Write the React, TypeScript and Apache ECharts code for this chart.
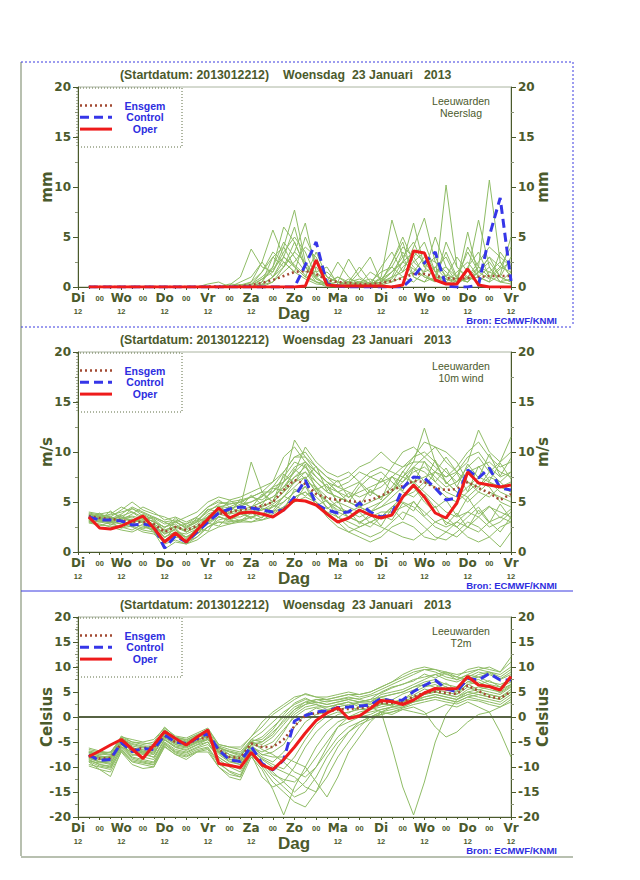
import React, { useEffect, useRef } from 'react';
import * as echarts from 'echarts';

// ---------- labels ----------
const DAY_LABELS = ['Di', 'Wo', 'Do', 'Vr', 'Za', 'Zo', 'Ma', 'Di', 'Wo', 'Do', 'Vr'];
const HOUR_LABEL = '12';
const MID_LABEL = '00';
const STEP_HOURS = 6;
const TITLE_PARTS = ['(Startdatum: 2013012212)', 'Woensdag', '23 Januari', '2013'];
const STATION = 'Leeuwarden';
const SOURCE = 'Bron: ECMWF/KNMI';
const LEGEND_NAMES = ['Ensgem', 'Control', 'Oper'];
const X_NAME = 'Dag';

// ---------- Neerslag (mm), steps +6h .. +240h ----------
const PRECIP_OPER = [0,0,0,0,0,0,0,0,0,0, 0,0,0,0,0,0,0,0,0,0, 0.1,2.7,0.2,0.1,0.1,0.1,0.1,0.1,0,0.2, 3.6,3.4,0.7,0.3,0.3,1.8,0.2,0,0,0];
const PRECIP_CONTROL = [0,0,0,0,0,0,0,0,0,0, 0,0,0,0,0,0,0,0,0,0, 2.2,4.5,0.3,0.1,0,0,0,0,0,0, 1.0,2.4,3.5,0.1,0,0,0.2,5.1,8.9,0.6];
const PRECIP_ENSGEM = [0,0,0,0,0,0,0,0,0,0, 0,0.05,0.05,0.05,0.1,0.2,0.4,0.7,1.1,1.5, 1.6,1.3,0.7,0.5,0.4,0.3,0.3,0.4,0.6,0.9, 1.3,1.3,1.1,0.9,0.8,0.9,1.0,1.1,1.1,1.1];
const PRECIP_MEMBERS = [
  [0,0,0,0,0,0,0,0,0,0, 0,0,0,0.2,1.0,3.8,2.0,1.5,4.0,7.7, 2.5,0.8,0.3,0.5,2.8,1.0,0.3,0.8,2.0,4.0, 3.0,1.2,0.6,10.2,2.0,0.8,1.5,3.0,1.0,0.5],
  [0,0,0,0,0,0,0,0,0,0, 0,0.3,0.5,0,0.2,0.5,1.5,3.0,2.0,3.5, 6.4,1.5,0.5,0.2,0.5,0.3,0.2,1.0,6.7,3.0, 1.0,0.5,2.0,3.0,0.8,0.5,2.0,10.7,2.5,1.0],
  [0,0,0,0,0,0,0,0,0,0, 0,0,0,0,0.5,1.0,2.5,5.7,3.0,2.0, 1.0,3.5,1.0,0.5,0.3,1.5,3.0,0.5,1.5,2.5, 6.4,2.0,1.0,0.8,0.5,5.5,1.0,0.5,1.2,5.0],
  [0,0,0,0,0,0,0,0,0,0, 0,0,0,0,0.2,0.3,1.0,2.0,6.0,4.5, 2.0,0.8,0.3,0.2,0.8,0.5,0.2,2.0,3.5,1.5, 4.0,6.9,2.5,1.0,3.0,1.5,6.7,2.0,0.5,0.8],
  [0,0,0,0,0,0,0,0,0,0, 0,0,0,0,0,0,0.8,1.5,3.5,5.0, 3.5,1.0,0.2,0,0.5,0.8,0.3,0.5,2.5,5.0, 2.5,3.5,1.5,0.5,0.3,2.0,3.5,1.0,2.0,1.5],
  [0,0,0,0,0,0,0,0,0,0, 0,0,0,0.3,0.2,0,0.5,2.0,4.5,3.0, 1.5,2.0,0.5,1.0,0.3,0,0.2,0.5,1.5,3.0, 4.5,2.0,3.0,1.0,0.5,1.0,2.5,4.0,3.0,2.0],
  [0,0,0,0,0,0,0,0,0,0, 0,0,0,0,0,0.2,1.5,3.5,2.5,1.5, 5.0,2.5,1.0,0.5,0.2,0.3,1.5,0.8,0.5,2.0, 3.0,4.5,1.5,2.0,1.0,3.5,1.5,2.5,1.0,3.0],
  [0,0,0,0,0,0,0,0,0,0, 0,0,0,0,0,0,0.3,1.0,2.0,4.5, 2.0,0.5,0,0,0.2,0.5,0.8,0.3,1.0,3.5, 2.0,1.0,0.5,4.5,2.0,1.0,0.5,1.5,2.5,1.0],
  [0,0,0,0,0,0,0,0,0,0, 0,0,0,0,0,0.5,2.5,1.0,3.0,6.0, 2.0,1.5,2.0,0.3,0,0,0.2,0.5,1.0,1.5, 2.5,1.5,5.0,2.0,0.5,0.8,1.0,2.0,0.5,0.3],
  [0,0,0,0,0,0,0,0,0,0, 0,0,0,0,0,0,0.2,0.5,1.5,2.5, 4.0,3.0,0.5,2.5,1.0,0.2,0,0.3,0.8,2.5, 3.5,2.5,1.0,0.5,1.5,2.5,1.0,0.5,3.5,2.0],
  [0,0,0,0,0,0,0,0,0,0, 0,0,0,0,0,0,0.5,3.0,4.0,2.0, 1.0,0.5,0.3,0.2,0.5,2.0,0.5,0.2,0.5,1.0, 1.5,3.0,2.5,1.5,0.5,4.0,2.0,1.0,0.5,1.5],
  [0,0,0,0,0,0,0,0,0,0, 0,0,0,0,0,0,0,0.5,2.0,3.5, 2.5,1.0,1.5,0.5,0.2,0.5,0.3,0.5,2.5,4.5, 1.0,0.5,1.0,3.5,1.0,0.5,1.5,3.0,2.0,4.0],
  [0,0,0,0,0,0,0,0,0,0, 0,0,0,0,0,0,0.2,1.0,2.5,1.5, 0.8,0.3,0.2,0,0,0.2,0.5,1.5,2.0,1.0, 0.5,1.5,2.0,0.8,0.3,1.0,2.0,1.5,1.0,0.5],
  [0,0,0,0,0,0,0,0,0,0, 0,0,0,0,0,0.2,0.8,1.8,3.0,2.2, 1.2,0.5,0.3,1.0,0.5,0.2,0.3,0.8,1.5,2.5, 1.8,1.0,0.6,1.2,0.8,0.5,1.5,0.8,1.8,2.5],
];

// ---------- 10m wind (m/s) ----------
const WIND_OPER = [3.5,2.4,2.3,2.6,3.1,3.6,2.4,1.0,1.9,1.0, 2.2,3.3,4.4,3.4,3.9,4.0,3.8,3.5,4.2,5.2, 5.1,4.7,3.8,3.0,3.4,4.2,3.7,3.4,3.7,5.5, 6.7,5.5,3.9,3.4,4.9,8.0,6.9,6.7,6.5,6.7];
const WIND_CONTROL = [3.5,3.2,3.2,3.1,2.7,2.8,2.6,0.4,1.6,1.0, 2.0,3.0,3.9,4.3,4.5,4.4,4.2,4.0,4.2,5.5, 7.2,4.8,4.2,3.9,4.0,4.9,4.0,3.5,3.8,6.4, 7.5,7.4,6.4,5.2,5.4,8.2,7.4,8.4,6.4,6.2];
const WIND_ENSGEM = [3.6,3.4,3.3,3.2,3.0,3.0,2.8,2.0,2.5,2.2, 2.6,3.2,3.8,4.0,4.2,4.4,4.6,5.0,6.2,7.2, 6.8,5.8,5.4,5.2,5.1,5.0,5.2,5.6,6.2,6.6, 7.1,7.0,6.4,6.2,6.3,7.0,6.4,5.9,5.2,5.8];
const WIND_MEMBERS = [
  [3.8,3.5,3.2,3.6,4.0,3.5,3.0,2.5,2.8,2.0, 2.5,3.5,4.5,4.8,5.0,5.5,5.2,6.0,7.5,9.0, 8.5,7.0,6.0,5.5,5.0,6.5,7.5,8.0,7.0,6.0, 5.5,6.5,8.0,9.5,8.0,7.0,6.0,5.5,6.5,7.0],
  [3.2,3.0,2.8,2.5,2.2,2.8,2.0,1.2,1.8,1.5, 2.0,3.0,3.5,3.2,3.8,4.0,4.5,5.0,6.0,7.5, 8.0,6.5,5.0,4.0,3.5,3.0,2.5,3.5,4.5,5.5, 6.5,5.0,4.0,3.0,2.5,3.5,4.5,3.0,2.0,3.5],
  [3.5,3.8,4.0,3.5,3.0,3.2,3.5,3.0,2.5,2.8, 3.5,4.5,5.2,4.5,4.0,3.8,4.2,4.8,5.5,6.5, 7.5,6.0,5.0,4.5,4.0,4.5,5.0,5.5,6.5,8.0, 9.5,10.0,9.0,8.0,7.0,8.5,9.5,8.0,7.0,8.0],
  [3.6,3.3,3.0,2.8,3.0,3.8,3.2,2.0,2.5,2.2, 2.8,3.8,4.2,3.8,4.5,9.0,6.0,5.0,7.0,11.2, 9.5,8.0,7.0,6.0,5.0,4.5,4.0,5.0,6.0,7.5, 9.0,12.4,9.0,7.0,6.0,5.0,6.0,7.0,6.0,5.5],
  [3.0,2.8,2.5,2.2,2.0,2.5,2.2,0.8,1.2,0.8, 1.5,2.5,3.0,2.8,3.2,3.5,3.8,4.5,5.0,6.0, 6.5,5.5,4.5,3.5,2.5,2.0,1.5,2.0,3.0,4.0, 3.5,2.5,1.5,1.2,2.0,3.0,2.5,1.5,0.5,2.0],
  [4.0,3.8,3.5,4.2,5.0,4.2,3.8,3.5,3.0,3.5, 4.0,5.0,5.5,5.2,5.5,6.0,6.5,7.0,8.0,9.5, 10.0,8.5,7.5,7.0,7.5,8.5,9.0,10.0,9.0,8.5, 9.5,11.0,10.5,9.0,8.0,9.0,12.2,10.0,9.0,11.5],
  [3.4,3.2,3.0,3.3,3.5,3.0,2.7,1.8,2.2,1.5, 2.2,3.2,3.8,3.5,3.5,4.0,4.2,4.5,5.5,7.0, 7.5,6.0,5.0,4.2,4.0,3.5,4.0,4.5,5.0,5.5, 6.0,7.0,6.5,5.5,5.0,6.0,7.0,6.5,5.0,4.5],
  [3.7,3.6,3.4,3.0,2.8,3.5,3.0,2.5,3.0,2.5, 3.0,3.5,4.0,4.2,4.8,5.0,5.5,6.5,7.0,8.0, 9.0,8.0,7.0,6.0,5.5,6.0,6.5,7.0,7.5,7.0, 8.0,8.5,7.5,6.5,7.0,8.0,8.5,9.0,8.0,7.5],
  [3.1,3.0,3.2,2.8,2.5,2.0,1.8,1.0,1.5,1.2, 1.8,2.5,3.0,3.0,3.2,3.0,3.5,4.0,4.5,5.0, 5.5,5.0,4.0,3.0,2.0,1.5,1.0,1.5,2.5,3.0, 2.5,1.5,1.2,2.0,3.0,2.5,2.0,3.0,3.5,3.0],
  [3.5,3.4,3.8,4.5,4.0,3.2,2.8,2.2,2.6,2.0, 2.5,3.0,3.8,4.5,5.0,4.5,5.0,5.5,6.5,8.0, 10.5,9.0,8.0,7.5,8.0,7.0,6.0,5.5,6.0,7.0, 8.5,9.5,10.5,10.0,9.0,7.0,6.5,8.0,9.0,10.0],
  [3.3,3.1,2.9,3.1,3.3,2.9,2.6,1.5,2.0,1.8, 2.3,3.3,4.0,3.8,4.0,4.3,4.6,5.0,6.0,7.0, 8.0,7.0,6.0,5.5,5.0,4.5,4.0,4.5,5.5,6.5, 7.0,6.0,5.0,4.0,3.5,4.0,5.0,6.0,5.5,5.0],
  [3.6,3.4,3.3,3.8,4.5,4.0,3.5,3.0,3.2,2.8, 3.2,4.0,4.8,5.0,5.2,5.5,6.0,6.0,7.0,8.5, 9.0,7.5,6.5,6.0,6.5,7.0,8.0,8.5,8.0,7.5, 7.0,7.5,8.0,7.0,6.0,5.5,6.5,7.5,7.0,6.0],
  [2.9,2.7,2.6,2.4,2.6,2.2,2.0,0.3,1.0,0.8, 1.2,2.0,2.5,2.8,3.0,3.0,3.2,3.8,4.5,5.5, 6.0,5.0,3.5,2.5,2.0,2.5,3.0,2.5,2.0,1.5, 1.2,2.0,3.0,3.5,2.5,1.5,1.0,1.5,2.5,3.0],
  [3.9,3.7,3.5,3.2,3.8,4.5,4.0,3.2,3.5,3.0, 3.5,4.5,5.0,4.8,5.0,5.5,6.0,7.0,9.5,10.5, 9.0,8.0,7.0,6.5,7.0,8.0,7.5,7.0,8.5,10.0, 10.5,9.5,8.5,7.5,8.5,10.0,11.0,9.5,8.5,9.0],
  [3.2,3.3,3.5,3.0,2.7,2.6,2.3,1.5,2.0,1.5, 2.0,2.8,3.5,3.2,3.0,3.5,3.8,4.0,5.0,6.0, 7.0,6.5,5.5,4.5,3.5,3.0,3.5,4.0,4.0,4.5, 5.0,4.0,3.0,2.5,3.0,4.0,3.5,2.5,3.0,4.0],
  [3.5,3.2,3.0,3.4,3.6,3.3,3.1,2.2,2.5,2.0, 2.6,3.6,4.3,4.0,4.2,4.5,5.0,5.5,6.5,7.5, 8.5,7.5,6.5,5.0,4.5,4.0,4.5,5.0,6.0,7.5, 8.5,8.0,7.0,6.0,5.5,6.5,7.5,7.0,6.5,6.0],
  [3.0,3.1,3.3,3.5,3.2,3.0,2.5,1.8,2.3,1.0, 1.5,2.5,3.2,3.5,3.8,3.5,3.2,3.5,4.5,5.5, 6.0,5.0,4.0,3.5,3.0,2.5,3.0,3.5,4.5,5.0, 4.5,3.5,2.5,2.0,1.5,2.5,3.5,4.5,4.0,3.5],
  [3.8,3.6,3.7,4.0,4.3,3.9,3.4,2.8,3.0,2.4, 3.0,4.2,4.6,4.4,4.6,5.0,5.6,6.5,8.0,9.5, 9.5,8.5,7.5,6.5,6.0,5.5,6.0,6.5,7.5,8.5, 9.0,9.0,8.0,7.5,8.0,9.5,10.0,8.5,7.5,8.0],
  [3.4,3.9,3.1,3.7,2.9,3.4,2.6,1.9,3.1,2.3, 3.4,3.0,4.6,3.9,5.3,4.4,5.8,5.0,7.8,6.9, 8.8,6.2,6.8,4.9,5.9,4.6,6.3,5.2,7.6,6.1, 8.4,7.0,9.2,6.8,7.9,6.0,8.6,7.1,8.9,7.3],
  [3.1,2.6,3.0,2.4,2.9,2.3,2.8,1.4,2.4,1.3, 2.4,2.1,3.6,3.0,4.1,3.3,4.4,4.1,5.6,5.0, 6.6,4.6,5.2,3.4,4.2,2.8,3.8,2.6,4.4,3.2, 5.1,3.6,4.6,2.7,3.9,2.4,4.2,2.9,4.8,3.3],
  [3.7,3.2,4.1,3.3,4.4,3.6,3.3,2.4,3.4,2.6, 3.1,4.3,4.0,5.2,4.4,5.7,4.7,6.4,6.1,8.3, 7.3,8.6,6.1,7.2,5.4,6.9,5.6,7.4,6.0,8.1, 6.8,9.1,7.0,8.4,6.5,8.8,7.4,9.8,7.6,9.4],
  [3.3,3.6,2.7,3.2,2.6,3.1,2.1,1.1,1.7,0.9, 1.8,2.9,2.6,3.6,3.1,3.9,3.4,4.7,4.2,6.3, 5.6,6.4,4.3,5.1,3.3,4.0,2.9,3.7,3.2,4.9, 4.1,5.8,4.4,5.2,3.6,5.5,3.8,4.6,3.4,4.3],
];

// ---------- T2m (Celsius) ----------
const TEMP_OPER = [-7.9,-6.8,-5.6,-4.5,-6.4,-8.3,-5.6,-2.9,-4.3,-5.6, -4.0,-2.6,-9.3,-9.7,-10.1,-7.1,-9.6,-10.5,-8.5,-6.0, -3.2,-0.7,0.8,1.9,-0.3,0.2,1.7,3.3,3.1,2.5, 3.4,4.8,5.7,5.6,5.7,8.1,6.4,6.1,5.4,8.1];
const TEMP_CONTROL = [-7.6,-8.7,-8.5,-5.1,-6.9,-6.3,-6.5,-3.6,-5.0,-5.3, -4.3,-3.3,-6.6,-8.6,-8.9,-5.9,-9.3,-10.6,-8.6,-0.8, 0.3,1.0,1.2,1.9,2.0,2.2,2.4,3.7,3.2,3.4, 5.1,6.3,7.4,5.6,5.1,7.7,7.4,8.7,7.4,7.4];
const TEMP_ENSGEM = [-7.8,-8.3,-8.2,-5.3,-6.6,-6.2,-6.0,-3.8,-5.0,-5.5, -4.5,-4.0,-6.5,-8.0,-8.2,-5.3,-6.0,-6.0,-4.5,-1.8, 0.3,0.8,1.0,1.5,1.6,1.8,2.0,2.8,2.8,3.0, 4.1,4.8,5.1,4.8,4.6,6.3,5.2,4.1,3.7,5.1];
const TEMP_MEMBERS = [
  [-7.0,-7.5,-7.0,-4.5,-5.5,-6.0,-6.5,-3.0,-4.5,-5.0, -4.0,-3.0,-6.5,-7.5,-8.0,-4.5,-5.0,-3.0,-1.0,1.5, 3.0,3.5,3.0,3.5,4.0,3.5,3.0,4.5,5.0,5.5, 6.5,7.5,8.5,9.0,8.0,7.5,8.5,9.0,8.0,9.5],
  [-8.5,-9.5,-10.0,-6.0,-8.0,-8.5,-9.0,-5.0,-6.5,-7.0, -6.0,-5.0,-8.5,-10.0,-11.0,-7.5,-12.0,-14.0,-13.0,-10.0, -6.0,-3.0,-1.0,0.5,1.0,1.5,1.5,2.5,2.5,3.0, 4.0,5.0,5.5,5.0,4.5,6.0,5.0,4.5,4.0,5.5],
  [-6.5,-7.0,-7.5,-3.8,-5.0,-5.5,-5.0,-2.0,-4.0,-4.5, -3.5,-2.5,-5.5,-6.0,-6.5,-3.9,-2.0,0.5,2.0,3.5, 4.7,4.0,3.5,4.0,4.5,4.0,4.5,5.5,6.5,7.5, 8.5,9.5,9.0,8.0,7.5,8.5,9.5,10.0,9.0,12.0],
  [-9.0,-10.5,-11.0,-7.0,-9.5,-10.3,-10.0,-6.0,-7.5,-8.5, -7.0,-6.5,-10.0,-12.0,-12.6,-8.0,-10.5,-14.5,-19.6,-14.0, -10.0,-6.0,-3.0,-1.0,0.0,0.5,1.0,1.5,2.0,2.0, 3.0,3.5,4.0,3.5,3.0,4.0,3.5,3.0,2.5,4.0],
  [-8.0,-8.5,-8.0,-5.0,-6.5,-6.0,-6.0,-3.5,-5.0,-5.5, -4.5,-4.0,-7.0,-8.5,-9.0,-6.0,-7.0,-6.0,-3.0,0.5, 2.0,2.5,2.0,2.5,3.0,2.5,2.0,1.0,-6.0,-14.0, -19.6,-13.0,-5.0,0.5,3.5,4.5,4.0,3.5,3.0,4.5],
  [-7.5,-8.0,-8.5,-4.5,-6.0,-7.0,-7.0,-4.0,-5.5,-6.0, -5.0,-4.5,-6.0,-7.0,-7.5,-5.0,-4.0,-2.0,0.0,2.0, 3.0,2.5,1.5,2.0,2.5,3.0,3.5,4.0,4.5,5.0, 6.0,6.5,7.0,6.0,5.5,7.0,7.5,6.5,6.0,7.0],
  [-8.2,-9.0,-9.5,-5.5,-7.5,-8.0,-8.5,-4.5,-6.0,-6.5, -5.5,-4.5,-7.5,-9.0,-9.5,-6.5,-8.5,-10.0,-11.0,-12.0, -14.0,-15.0,-12.0,-8.0,-5.0,-2.0,0.0,1.0,1.5,2.0, 3.0,4.0,4.5,4.0,3.5,5.0,5.5,5.0,4.5,6.0],
  [-7.8,-8.0,-7.8,-5.2,-6.8,-6.5,-7.5,-3.8,-5.2,-5.8, -4.8,-3.5,-6.0,-7.5,-8.5,-5.5,-6.0,-5.0,-2.5,0.0, 1.5,2.0,2.0,2.5,3.0,2.0,2.5,3.5,3.0,3.5, 5.0,6.0,6.5,5.5,5.0,6.5,7.0,6.0,5.5,6.5],
  [-9.5,-10.0,-10.5,-6.5,-8.5,-9.0,-9.5,-5.5,-7.0,-7.5, -6.5,-6.0,-9.0,-11.0,-12.0,-7.0,-9.0,-11.0,-13.0,-15.0, -13.0,-10.0,-7.0,-4.0,-2.0,-1.0,0.0,1.0,0.5,1.5, 2.0,1.0,-2.0,-4.0,-3.0,-1.0,0.5,1.0,2.0,3.0],
  [-6.8,-7.2,-7.0,-4.2,-5.0,-5.2,-5.5,-2.5,-4.2,-4.8, -3.8,-2.8,-5.8,-6.5,-7.0,-4.5,-3.0,-1.0,1.0,2.5, 3.5,3.0,2.5,3.0,3.5,3.0,3.5,5.0,6.0,6.5, 7.5,8.0,8.5,7.5,7.0,8.0,9.0,8.5,7.5,8.5],
  [-8.8,-9.2,-9.0,-6.0,-7.0,-7.5,-8.0,-4.5,-5.8,-6.2, -5.2,-4.5,-7.0,-8.0,-8.8,-6.0,-7.5,-8.0,-8.0,-9.0, -10.0,-13.0,-16.0,-12.0,-7.0,-4.0,-1.0,1.0,2.0,2.5, 3.0,3.5,4.0,3.5,3.0,4.0,4.5,4.0,3.5,5.0],
  [-7.2,-7.8,-8.0,-4.8,-6.2,-6.8,-6.8,-3.2,-4.8,-5.2, -4.2,-3.2,-6.2,-7.0,-7.8,-5.0,-5.5,-4.0,-1.5,1.0, 2.5,3.0,2.5,3.0,3.5,3.0,3.0,4.0,4.5,5.0, 6.0,7.0,7.5,6.5,6.0,7.5,8.0,7.0,6.5,7.5],
  [-9.8,-10.5,-11.9,-6.8,-9.0,-9.5,-10.0,-5.8,-7.5,-8.0, -7.0,-7.0,-10.0,-11.5,-12.0,-7.5,-10.0,-13.0,-15.0,-17.0, -18.0,-15.0,-10.0,-6.0,-3.0,-1.0,0.0,0.5,1.0,1.5, 1.0,0.5,1.5,2.5,2.0,3.0,2.0,1.0,-3.0,-8.0],
  [-7.0,-7.8,-8.2,-4.0,-5.8,-6.2,-6.0,-2.8,-4.5,-5.0, -4.0,-3.8,-6.8,-8.0,-8.5,-5.5,-5.0,-3.5,-0.5,1.5, 2.5,3.5,3.5,4.0,4.5,4.5,5.0,6.0,7.0,8.0, 9.0,9.5,9.5,9.0,8.5,9.0,9.5,9.0,8.5,10.0],
  [-8.3,-9.0,-8.8,-5.5,-7.2,-6.8,-7.2,-4.2,-5.5,-6.0, -5.0,-4.2,-7.2,-8.8,-9.5,-6.2,-8.0,-9.0,-7.0,-4.0, -1.0,0.5,1.0,1.5,2.0,1.5,1.5,2.5,3.0,3.0, 4.0,4.5,5.0,4.5,4.0,5.0,4.5,4.0,3.5,5.0],
  [-7.6,-8.2,-8.5,-5.0,-6.8,-7.2,-7.5,-3.5,-5.0,-5.5, -4.5,-4.0,-6.5,-8.0,-8.0,-5.0,-6.5,-7.5,-9.0,-11.0, -12.0,-10.0,-6.0,-2.0,0.0,1.0,1.5,2.0,2.5,3.0, 3.5,4.0,4.5,4.0,3.5,4.5,5.0,4.5,4.0,5.0],
  [-6.2,-6.8,-7.2,-4.0,-4.5,-5.0,-4.5,-2.2,-3.8,-4.2, -3.2,-2.2,-5.5,-6.0,-6.0,-4.0,-1.0,1.0,2.5,4.0, 4.5,4.0,4.0,4.5,5.0,4.5,5.0,6.0,7.0,8.5, 9.5,10.0,9.5,8.5,8.0,9.5,10.0,9.5,9.0,11.0],
  [-8.6,-9.5,-9.8,-6.2,-8.2,-8.8,-9.2,-5.2,-6.8,-7.2, -6.2,-5.5,-8.0,-9.5,-10.5,-6.8,-9.0,-11.5,-12.5,-13.0, -11.0,-8.0,-5.0,-2.0,-1.0,0.0,0.5,1.5,2.0,2.5, 3.5,4.5,5.0,4.5,4.0,5.5,6.0,5.5,5.0,6.5],
  [-7.4,-8.6,-7.9,-5.4,-6.1,-7.4,-6.2,-3.3,-5.4,-5.2, -4.9,-3.6,-7.1,-8.4,-9.1,-5.6,-7.6,-7.0,-5.5,-2.0, 0.5,1.8,1.2,2.6,2.2,2.9,2.6,3.9,3.4,4.6, 5.4,6.6,5.9,6.8,5.2,7.1,6.4,7.3,6.0,7.8],
  [-8.1,-8.9,-9.3,-5.8,-7.7,-7.0,-8.1,-4.6,-6.1,-6.7, -5.6,-5.0,-8.1,-9.4,-10.2,-6.6,-8.3,-9.5,-10.4,-8.0, -4.5,-1.5,0.2,1.0,0.8,1.9,1.4,2.8,2.2,3.6, 4.4,5.6,5.0,6.1,4.6,6.6,5.4,6.1,4.8,6.2],
  [-7.1,-7.4,-7.6,-4.4,-5.3,-5.8,-5.8,-2.6,-4.1,-4.6, -3.6,-3.4,-6.2,-6.8,-7.3,-4.8,-4.5,-2.5,0.5,2.8, 3.8,2.8,3.2,3.4,3.8,3.6,4.2,4.8,5.8,6.6, 7.2,8.6,7.8,8.8,7.4,8.4,8.0,8.8,7.6,9.0],
  [-8.9,-9.8,-10.2,-6.6,-8.8,-9.2,-9.6,-5.4,-7.2,-7.8, -6.8,-6.2,-9.4,-10.8,-11.6,-7.2,-9.6,-12.0,-14.0,-16.0, -15.0,-12.0,-8.0,-5.0,-3.0,-1.5,-0.5,0.5,1.0,1.8, 2.5,3.0,3.5,3.0,2.6,3.5,3.2,2.5,2.0,3.5],
];
const ZERO_LINE = [[0, 0], [240, 0]];

// ---------- styles ----------
const OLIVE = '#4b5a2c';
const BLUE_TEXT = '#2d2de0';
const MEMBER_COLOR = '#8fbc66';
const ENSGEM_COLOR = '#a24a32';
const CONTROL_COLOR = '#3636e8';
const OPER_COLOR = '#ee1b1b';
const SANS = '"Liberation Sans", Arial, sans-serif';
const WIDE = '"DejaVu Sans", sans-serif';

const PANELS = [
  { top: 87, min: 0, max: 20, unit: 'mm', param: 'Neerslag', oper: PRECIP_OPER, control: PRECIP_CONTROL, ensgem: PRECIP_ENSGEM, members: PRECIP_MEMBERS, zero: false, titleY: 75 },
  { top: 352, min: 0, max: 20, unit: 'm/s', param: '10m wind', oper: WIND_OPER, control: WIND_CONTROL, ensgem: WIND_ENSGEM, members: WIND_MEMBERS, zero: false, titleY: 340 },
  { top: 617, min: -20, max: 20, unit: 'Celsius', param: 'T2m', oper: TEMP_OPER, control: TEMP_CONTROL, ensgem: TEMP_ENSGEM, members: TEMP_MEMBERS, zero: true, titleY: 605 },
];
const GRID_LEFT = 78;
const GRID_WIDTH = 433;
const GRID_HEIGHT = 200;

const toPairs = (arr: number[]) => arr.map((v, k) => [(k + 1) * STEP_HOURS, v]);

function buildOption() {
  const grid: any[] = [];
  const xAxis: any[] = [];
  const yAxis: any[] = [];
  const series: any[] = [];
  const graphic: any[] = [];

  const axisLineStyle = { color: OLIVE, width: 1 };

  PANELS.forEach((p, gi) => {
    grid.push({
      left: GRID_LEFT, top: p.top, width: GRID_WIDTH, height: GRID_HEIGHT,
      show: true, borderColor: '#aab4a0', borderWidth: 1, backgroundColor: 'transparent',
    });
    xAxis.push({
      type: 'value', gridIndex: gi, min: 0, max: 240, interval: 12,
      axisLine: { show: true, onZero: false, lineStyle: axisLineStyle },
      axisTick: { show: true, length: 3, lineStyle: { color: OLIVE } },
      minorTick: { show: true, splitNumber: 2, length: 2, lineStyle: { color: OLIVE } },
      splitLine: { show: false },
      axisLabel: {
        show: true, margin: 2, showMinLabel: true, showMaxLabel: true,
        formatter: (v: number) => {
          const h = Math.round(v);
          if (h % 24 === 0) {
            const idx = h / 24;
            const day = DAY_LABELS[idx];
            return idx === 5 ? `{d|${day}}` : `{d|${day}}\n{h|${HOUR_LABEL}}`;
          }
          return `{z|${MID_LABEL}}`;
        },
        rich: {
          d: { fontFamily: WIDE, fontWeight: 'bold', fontSize: 12, color: OLIVE, lineHeight: 18 },
          h: { fontFamily: SANS, fontWeight: 'bold', fontSize: 7.5, color: OLIVE, lineHeight: 8 },
          z: { fontFamily: SANS, fontWeight: 'bold', fontSize: 7.5, color: OLIVE, lineHeight: 18 },
        },
      },
    });
    ['left', 'right'].forEach((pos) => {
      yAxis.push({
        type: 'value', gridIndex: gi, position: pos, min: p.min, max: p.max, interval: 5,
        name: p.unit, nameLocation: 'middle', nameGap: 24, nameRotate: 90, nameMoveOverlap: false,
        nameTextStyle: { fontFamily: WIDE, fontWeight: 'bold', fontSize: 15, color: OLIVE },
        axisLine: { show: true, lineStyle: axisLineStyle },
        axisTick: { show: true, length: 5, lineStyle: { color: OLIVE } },
        minorTick: { show: true, splitNumber: 2, length: 3, lineStyle: { color: '#8a9478' } },
        splitLine: { show: false },
        axisLabel: { margin: 7, fontFamily: WIDE, fontWeight: 'bold', fontSize: 12, color: OLIVE },
      });
    });
    const yi = gi * 2;
    p.members.forEach((m, mi) => {
      series.push({
        type: 'line', name: `member ${gi}-${mi + 1}`, xAxisIndex: gi, yAxisIndex: yi,
        data: toPairs(m), showSymbol: false, symbol: 'none', silent: true,
        lineStyle: { color: MEMBER_COLOR, width: 1 },
      });
    });
    if (p.zero) {
      series.push({
        type: 'line', name: 'zero', xAxisIndex: gi, yAxisIndex: yi, data: ZERO_LINE,
        symbol: 'none', silent: true, lineStyle: { color: '#566243', width: 2 },
      });
    }
    series.push({
      type: 'line', name: LEGEND_NAMES[0], xAxisIndex: gi, yAxisIndex: yi, data: toPairs(p.ensgem),
      symbol: 'none', silent: true, lineStyle: { color: ENSGEM_COLOR, width: 2.5, type: [2, 3] },
    });
    series.push({
      type: 'line', name: LEGEND_NAMES[1], xAxisIndex: gi, yAxisIndex: yi, data: toPairs(p.control),
      symbol: 'none', silent: true, lineStyle: { color: CONTROL_COLOR, width: 3, type: [9, 5] },
    });
    series.push({
      type: 'line', name: LEGEND_NAMES[2], xAxisIndex: gi, yAxisIndex: yi, data: toPairs(p.oper),
      symbol: 'none', silent: true, lineStyle: { color: OPER_COLOR, width: 3 },
    });

    // title
    const titleX = [120, 283, 352, 424];
    TITLE_PARTS.forEach((t, ti) => {
      graphic.push({
        type: 'text', x: titleX[ti], y: p.titleY,
        style: { text: t, fill: OLIVE, font: `bold 12.3px ${SANS}`, align: 'left', verticalAlign: 'middle' },
      });
    });
    // station / parameter
    graphic.push({
      type: 'text', x: 461, y: p.top + 14,
      style: { text: STATION, fill: OLIVE, font: `10.5px ${SANS}`, align: 'center', verticalAlign: 'middle' },
    });
    graphic.push({
      type: 'text', x: 461, y: p.top + 26,
      style: { text: p.param, fill: OLIVE, font: `10.5px ${SANS}`, align: 'center', verticalAlign: 'middle' },
    });
    // legend box
    graphic.push({
      type: 'rect', shape: { x: 77, y: p.top + 1, width: 105, height: 59 },
      style: { fill: 'rgba(0,0,0,0)', stroke: '#5e6e44', lineWidth: 1, lineDash: [1, 2] },
    });
    const legendStyles = [
      { stroke: ENSGEM_COLOR, lineWidth: 2.5, lineDash: [2, 3] },
      { stroke: CONTROL_COLOR, lineWidth: 3, lineDash: [9, 5] },
      { stroke: OPER_COLOR, lineWidth: 3 },
    ];
    LEGEND_NAMES.forEach((n, li) => {
      const ly = p.top + 18.5 + li * 11.8;
      graphic.push({ type: 'line', shape: { x1: 80, y1: ly, x2: 112, y2: ly }, style: legendStyles[li] });
      graphic.push({
        type: 'text', x: 145, y: ly,
        style: { text: n, fill: BLUE_TEXT, font: `bold 10.5px ${SANS}`, align: 'center', verticalAlign: 'middle' },
      });
    });
    // axis name
    graphic.push({
      type: 'text', x: 294, y: p.top + 226,
      style: { text: X_NAME, fill: OLIVE, font: `bold 17px ${SANS}`, align: 'center', verticalAlign: 'middle' },
    });
    graphic.push({
      type: 'text', x: 557, y: p.top + 233.5,
      style: { text: SOURCE, fill: BLUE_TEXT, font: `bold 9.5px ${SANS}`, align: 'right', verticalAlign: 'middle' },
    });
  });

  // frame
  const blue = '#3a3ae0';
  graphic.push({ type: 'line', shape: { x1: 21, y1: 62, x2: 21, y2: 856 }, style: { stroke: '#b8c0b0', lineWidth: 2 } });
  graphic.push({ type: 'line', shape: { x1: 21, y1: 62, x2: 573, y2: 62 }, style: { stroke: blue, lineWidth: 1, lineDash: [2, 2] } });
  graphic.push({ type: 'line', shape: { x1: 573, y1: 62, x2: 573, y2: 326 }, style: { stroke: blue, lineWidth: 1, lineDash: [2, 2] } });
  graphic.push({ type: 'line', shape: { x1: 21, y1: 327, x2: 573, y2: 327 }, style: { stroke: blue, lineWidth: 1, lineDash: [2, 2] } });
  graphic.push({ type: 'line', shape: { x1: 21, y1: 591, x2: 573, y2: 591 }, style: { stroke: blue, lineWidth: 1 } });
  graphic.push({ type: 'line', shape: { x1: 21, y1: 857, x2: 573, y2: 857 }, style: { stroke: '#b8c0b0', lineWidth: 2 } });

  return {
    animation: false,
    backgroundColor: '#ffffff',
    grid, xAxis, yAxis, series, graphic,
  };
}

export default function App() {
  const ref = useRef<HTMLDivElement>(null);
  useEffect(() => {
    document.body.style.margin = '0';
    if (!ref.current) return;
    const chart = echarts.init(ref.current, undefined, { renderer: 'svg' });
    chart.setOption(buildOption() as any);
    return () => chart.dispose();
  }, []);
  return <div ref={ref} style={{ width: 640, height: 880 }} />;
}
